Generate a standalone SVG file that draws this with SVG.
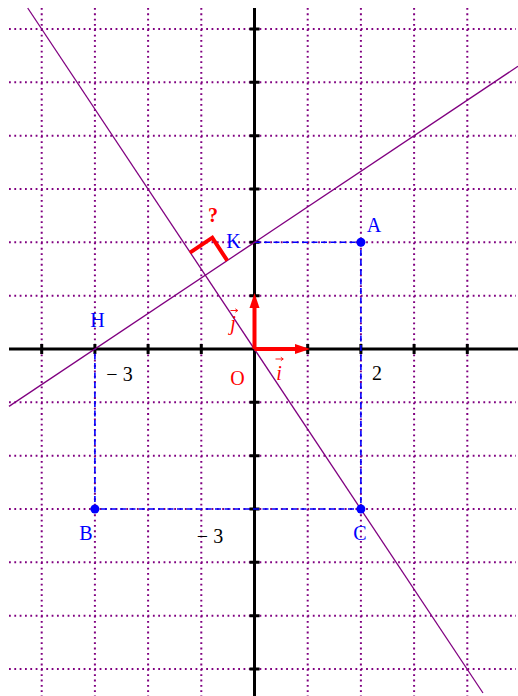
<svg xmlns="http://www.w3.org/2000/svg" width="518" height="696" viewBox="0 0 518 696">
<style>
.grid{stroke:#800080;stroke-width:2;stroke-dasharray:1.8 3.53;fill:none}
.axis{stroke:#000;stroke-width:3;fill:none}
.tick{stroke:#000;stroke-width:3}
.dash{stroke:#0000ff;stroke-width:1.6;stroke-dasharray:6 3.5;fill:none}
.ln{stroke:#800080;stroke-width:1.3;fill:none}
.vec{stroke:#ff0000;stroke-width:4;fill:none}
.t{font-family:"Liberation Serif",serif;font-size:20px}
.blue{fill:#0000ff}
.red{fill:#ff0000}
.blk{fill:#000}
</style>
<rect width="518" height="696" fill="#fff"/>
<g id="grid" class="grid">
<path d="M41.7 8V696M94.9 8V696M148.1 8V696M201.3 8V696M307.7 8V696M360.9 8V696M414.1 8V696M467.3 8V696"/>
<path d="M9 29H516M9 82.3H516M9 135.7H516M9 189H516M9 242.3H516M9 295.7H516M9 402.3H516M9 455.7H516M9 509H516M9 562.3H516M9 615.7H516M9 669H516"/>
</g>
<g id="axes">
<path class="axis" d="M9 349H518M254.5 8V696"/>
<path class="tick" d="M41.7 344V354M94.9 344V354M148.1 344V354M201.3 344V354M307.7 344V354M360.9 344V354M414.1 344V354M467.3 344V354"/>
<path class="tick" d="M249.5 29H259.5M249.5 82.3H259.5M249.5 135.7H259.5M249.5 189H259.5M249.5 242.3H259.5M249.5 295.7H259.5M249.5 402.3H259.5M249.5 455.7H259.5M249.5 509H259.5M249.5 562.3H259.5M249.5 615.7H259.5M249.5 669H259.5"/>
</g>
<g id="connectors">
<path class="dash" d="M254.5 242.3H360.9V509H94.9V349"/>
<line class="ln" x1="9" y1="406.4" x2="518" y2="66.3"/>
<line class="ln" x1="27.7" y1="8" x2="483" y2="693"/>
</g>
<g id="vectors">
<path class="vec" d="M254.5 349V306M254.5 349H297"/>
<polygon class="red" points="254.5,293 249.5,308 259.5,308"/>
<polygon class="red" points="310,349 295,344 295,354"/>
<path d="M230.5 310.5H237.5M235.3 308.8L237.8 310.5L235.3 312.2" stroke="#ff0000" stroke-width="0.9" fill="none"/>
<path d="M275.5 359H283M280.8 357.3L283.3 359L280.8 360.7" stroke="#ff0000" stroke-width="0.9" fill="none"/>
<text class="t red" x="233" y="330" font-style="italic" text-anchor="middle">j</text>
<text class="t red" x="279" y="380" font-style="italic" text-anchor="middle">i</text>
</g>
<g id="rightangle">
<polyline class="vec" points="190,252.7 212.3,237.7 227.3,260.7"/>
<text class="t red" x="213" y="222" font-weight="bold" text-anchor="middle">?</text>
</g>
<g id="A"><circle cx="360.9" cy="242.3" r="4.5" class="blue"/><text class="t blue" x="374" y="232" text-anchor="middle">A</text></g>
<g id="B"><circle cx="94.9" cy="509" r="4.5" class="blue"/><text class="t blue" x="86" y="540" text-anchor="middle">B</text></g>
<g id="C"><circle cx="360.9" cy="509" r="4.5" class="blue"/><text class="t blue" x="360" y="540" text-anchor="middle">C</text></g>
<g id="H"><text class="t blue" x="97.5" y="327" text-anchor="middle">H</text></g>
<g id="K"><text class="t blue" x="233.5" y="248" text-anchor="middle">K</text></g>
<g id="O"><text class="t red" x="237.5" y="385" text-anchor="middle">O</text></g>
<g id="labels">
<text class="t blk" x="119.5" y="381" text-anchor="middle">− 3</text>
<text class="t blk" x="377" y="380" text-anchor="middle">2</text>
<text class="t blk" x="210" y="543" text-anchor="middle">− 3</text>
</g>
</svg>
